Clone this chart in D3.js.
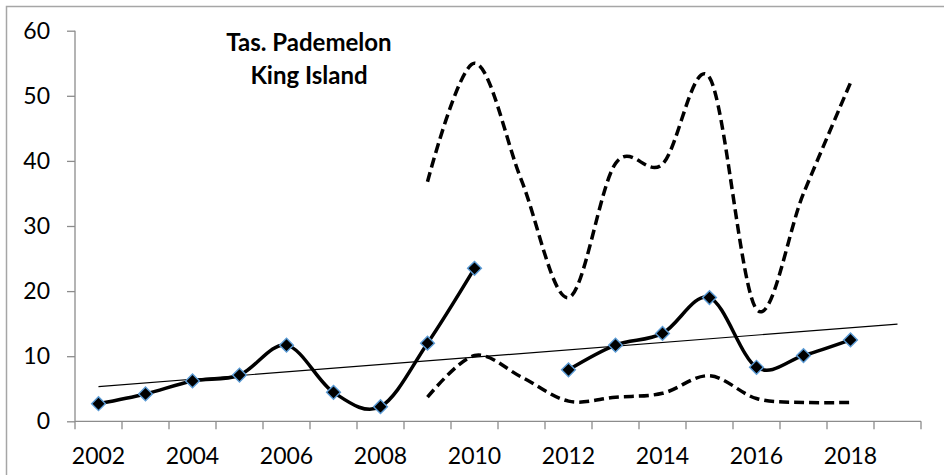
<!DOCTYPE html>
<html>
<head>
<meta charset="utf-8">
<script src="https://cdn.jsdelivr.net/npm/d3@7"></script>
<style>
  html, body { margin: 0; padding: 0; background: #fff; }
  svg { display: block; font-family: Lato, "Open Sans", sans-serif; }
</style>
</head>
<body>
<svg width="944" height="475"></svg>
<script>
// categories (one per year, 2019 is only used by the trend line)
const years = [2002, 2003, 2004, 2005, 2006, 2007, 2008, 2009, 2010, 2011, 2012, 2013, 2014, 2015, 2016, 2017, 2018, 2019];
// observed counts (solid line with markers)
const counts = [2.7, 4.2, 6.2, 7.1, 11.7, 4.45, 2.25, 12.0, 23.5, null, 7.9, 11.7, 13.5, 19.0, 8.3, 10.1, 12.5, null];
// upper and lower bounds (dashed lines)
const upper = [null, null, null, null, null, null, null, 36.8, 55.0, 37.0, 19.0, 39.6, 39.5, 52.8, 17.2, 35.0, 52.0, null];
const lower = [null, null, null, null, null, null, null, 3.7, 10.1, 6.8, 3.1, 3.7, 4.3, 7.0, 3.5, 2.9, 2.9, null];
const yTicks = [0, 10, 20, 30, 40, 50, 60];
const xLabels = ["2002", "2004", "2006", "2008", "2010", "2012", "2014", "2016", "2018"];
const title = ["Tas. Pademelon", "King Island"];

const svg = d3.select("svg");
const plotLeft = 75, plotRight = 921, plotTop = 30.7, plotBottom = 421.3;
const axisColor = "#8c8c8c";

// chart border (runs off the right and bottom edges)
svg.append("rect")
  .attr("x", 6.5).attr("y", 6.5)
  .attr("width", 960).attr("height", 500)
  .attr("fill", "none")
  .attr("stroke", "#a6a6a6")
  .attr("stroke-width", 1.5);

const xScale = d3.scaleBand().domain(years).range([plotLeft, plotRight]);
const xMid = (yr) => xScale(yr) + xScale.bandwidth() / 2;
const yScale = d3.scaleLinear().domain([0, 60]).range([plotBottom, plotTop]);

// y axis
const yAxis = d3.axisLeft(yScale).tickValues(yTicks).tickSize(8).tickPadding(17);
const gy = svg.append("g").attr("transform", `translate(${plotLeft},0)`).call(yAxis);
gy.select(".domain").attr("stroke", axisColor).attr("stroke-width", 1.3).attr("d", `M0,${plotTop}V${plotBottom}`);
gy.selectAll(".tick line").attr("stroke", axisColor).attr("stroke-width", 1.3);
gy.selectAll(".tick text").attr("font-size", 23).attr("font-family", "Lato").attr("fill", "#000");

// x axis: ticks between categories, labels every other year
const gx = svg.append("g").attr("transform", `translate(0,${plotBottom})`);
gx.append("path")
  .attr("d", `M${plotLeft},0H${plotRight}`)
  .attr("stroke", axisColor).attr("stroke-width", 1.3);
gx.selectAll("line.tick")
  .data(years.concat([null]))
  .enter().append("line")
  .attr("class", "tick")
  .attr("x1", (d, i) => i < years.length ? xScale(d) : plotRight)
  .attr("x2", (d, i) => i < years.length ? xScale(d) : plotRight)
  .attr("y1", 0).attr("y2", 8)
  .attr("stroke", axisColor).attr("stroke-width", 1.3);
gx.selectAll("text")
  .data(xLabels)
  .enter().append("text")
  .attr("x", d => xMid(+d))
  .attr("y", 43)
  .attr("text-anchor", "middle")
  .attr("font-size", 23)
  .text(d => d);

// title
svg.append("text")
  .attr("x", 309).attr("y", 51)
  .attr("text-anchor", "middle")
  .attr("font-size", 24).attr("font-weight", "bold")
  .selectAll("tspan")
  .data(title)
  .enter().append("tspan")
  .attr("x", 309)
  .attr("dy", (d, i) => i === 0 ? 0 : 32.5)
  .text(d => d);

const lineGen = d3.line()
  .defined(d => d.v !== null)
  .x(d => xMid(d.yr))
  .y(d => yScale(d.v))
  .curve(d3.curveCatmullRom.alpha(0));

const toPts = (arr) => arr.map((v, i) => ({ yr: years[i], v: v }));

// dashed bounds
[upper, lower].forEach(arr => {
  svg.append("path")
    .datum(toPts(arr))
    .attr("d", lineGen)
    .attr("fill", "none")
    .attr("stroke", "#000")
    .attr("stroke-width", 3.5)
    .attr("stroke-dasharray", "10,5");
});

// linear trend of counts over category index
const pts = toPts(counts).map((d, i) => ({ i: i + 1, v: d.v })).filter(d => d.v !== null);
const mx = d3.mean(pts, d => d.i), my = d3.mean(pts, d => d.v);
const slope = d3.sum(pts, d => (d.i - mx) * (d.v - my)) / d3.sum(pts, d => (d.i - mx) * (d.i - mx));
const trend = (i) => my + slope * (i - mx);
svg.append("line")
  .attr("x1", xMid(years[0])).attr("y1", yScale(trend(1)))
  .attr("x2", xMid(years[years.length - 1])).attr("y2", yScale(trend(years.length)))
  .attr("stroke", "#000").attr("stroke-width", 1.2);

// solid observed line
svg.append("path")
  .datum(toPts(counts))
  .attr("d", lineGen)
  .attr("fill", "none")
  .attr("stroke", "#000")
  .attr("stroke-width", 3.5);

// diamond markers
svg.selectAll("path.marker")
  .data(toPts(counts).filter(d => d.v !== null))
  .enter().append("path")
  .attr("class", "marker")
  .attr("d", d3.symbol(d3.symbolSquare, 95))
  .attr("transform", d => `translate(${xMid(d.yr)},${yScale(d.v)}) rotate(45)`)
  .attr("fill", "#000")
  .attr("stroke", "#5b9bd5")
  .attr("stroke-width", 1.4);
</script>
</body>
</html>
